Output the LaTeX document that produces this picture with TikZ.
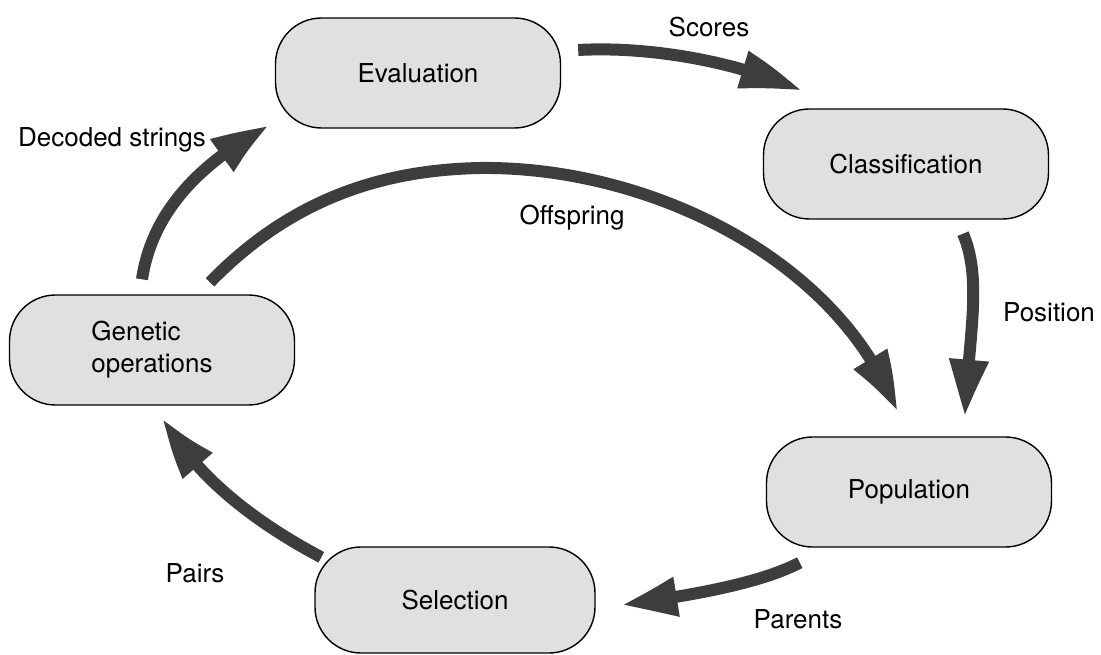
\documentclass[tikz,border=0pt]{standalone}
\usepackage{fontspec}
\setmainfont{TeX Gyre Heros}
\usetikzlibrary{arrows.meta,bending,calc}
\definecolor{boxfill}{gray}{0.88}
\definecolor{arrowgray}{gray}{0.24}
\begin{document}
\begin{tikzpicture}[x=1pt,y=-1pt,
  box/.style={draw=black, line width=1.4pt, fill=boxfill, rounded corners=46pt,
    minimum width=285pt, minimum height=110pt, inner sep=0pt,
    font=\fontsize{26}{32}\selectfont},
  flow/.style={draw=arrowgray, line width=12pt,
    -{Triangle[length=60pt,width=36pt,bend]}},
  lbl/.style={font=\fontsize{26}{32}\selectfont, inner sep=0pt}]
\useasboundingbox (0,0) rectangle (1101,655);

% nodes
\node[box] (eval) at (418,73) {Evaluation};
\node[box] (class) at (906,164) {Classification};
\node[box, align=left] (gen) at (152,350) {Genetic\\operations};
\node[box] (pop) at (909,492) {Population};
\node[box, minimum width=280pt, minimum height=106pt] (sel) at (455,600) {Selection};

% connector end points
\coordinate (sc0) at ($(eval.east)+(17,-23)$);
\coordinate (sc1) at ($(class.north west)+(39,-17)$);
\coordinate (po0) at ($(class.south)+(57,14)$);
\coordinate (po1) at ($(pop.north)+(56,-19)$);
\coordinate (of0) at ($(gen.north)+(58,-12)$);
\coordinate (of1) at ($(pop.north)+(-12,-24)$);
\coordinate (de0) at ($(gen.north)+(-10,-15)$);
\coordinate (de1) at ($(eval.south west)+(-5,-3)$);
\coordinate (pa0) at ($(pop.south west)+(34,15)$);
\coordinate (pa1) at ($(sel.east)+(25,5)$);
\coordinate (pr0) at ($(sel.north west)+(7,11)$);
\coordinate (pr1) at ($(gen.south)+(11,12)$);

% connectors
\draw[flow] (sc0) .. controls (650,46) and (740,62) .. (sc1);
\draw[flow] (po0) .. controls (983,280) and (968,340) .. (po1);
\draw[flow] (of0) .. controls (290,200) and (380,170) .. (480,168)
               .. controls (650,166) and (840,260) .. (of1);
\draw[flow] (de0) .. controls (150,225) and (185,170) .. (de1);
\draw[flow] (pa0) .. controls (770,578) and (720,592) .. (pa1);
\draw[flow] (pr0) .. controls (270,530) and (200,485) .. (pr1);

% labels
\node[lbl] (lscores) at (709,27) {Scores};
\node[lbl] (lpos) at (1049,312) {Position};
\node[lbl] (loff) at (572,218) {Offspring};
\node[lbl] (ldec) at (112,140) {Decoded strings};
\node[lbl] (lpar) at (798,619) {Parents};
\node[lbl] (lpairs) at (195,573) {Pairs};
\end{tikzpicture}
\end{document}
